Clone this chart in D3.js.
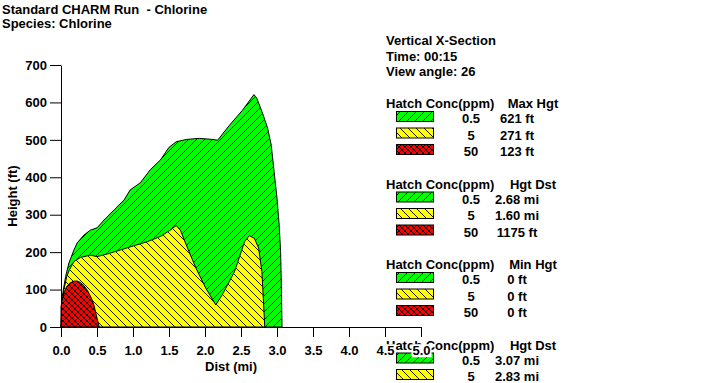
<!DOCTYPE html>
<html>
<head>
<meta charset="utf-8">
<script src="https://cdn.jsdelivr.net/npm/d3@7"></script>
<style>
  body { margin: 0; background: #fff; }
  svg text { font-family: "Liberation Sans", Arial, sans-serif; font-weight: bold; font-size: 13px; fill: #000; white-space: pre; }
</style>
</head>
<body>
<svg></svg>
<script>
var width = 710;
var height = 383;

// plume profiles, [dist (mi), height (ft)]
var plume05 = [[0,0],[0.018,82],[0.064,135],[0.11,171],[0.18,206],[0.226,225],[0.32,246],[0.41,259],[0.50,265],
               [0.60,286],[0.74,313],[0.875,339],[0.96,366],[1.10,385],[1.24,420],[1.38,446],[1.50,480],[1.60,495],
               [1.74,501],[1.92,504],[2.11,501],[2.175,499],[2.34,539],[2.52,579],[2.68,621],[2.72,611],[2.80,571],
               [2.87,531],[2.92,486],[2.96,415],[3.0,344],[3.03,273],[3.05,202],[3.06,113],[3.07,0]];
var plume5 = [[0,0],[0.01,40],[0.04,100],[0.08,135],[0.115,152],[0.18,175],[0.27,186],[0.41,192],[0.50,188],
              [0.64,195],[0.83,206],[1.01,217],[1.20,228],[1.38,242],[1.52,259],[1.60,271],[1.66,258],[1.74,219],
              [1.875,157],[2.01,104],[2.15,59],[2.24,86],[2.41,148],[2.55,228],[2.615,244],[2.685,237],[2.745,211],
              [2.79,148],[2.81,77],[2.83,0]];
var plume50 = [[0,55],[0.02,75],[0.05,95],[0.08,108],[0.12,117],[0.17,122],[0.22,123],[0.27,119],[0.32,110],
               [0.37,97],[0.42,78],[0.46,57],[0.49,32],[0.515,12],[0.53,0]];

var xTicks = [0, 0.5, 1, 1.5, 2, 2.5, 3, 3.5, 4, 4.5, 5];
var yTicks = [0, 100, 200, 300, 400, 500, 600, 700];

var titleLines = ["Standard CHARM Run  - Chlorine", "Species: Chlorine"];
var infoLines = ["Vertical X-Section", "Time: 00:15", "View angle: 26"];

var concLevels = ["0.5", "5", "50"];
var legendHeads = ["Max Hgt", "Hgt Dst", "Min Hgt", "Hgt Dst"];
var maxHgt = ["621 ft", "271 ft", "123 ft"];
var hgtDst = ["2.68 mi", "1.60 mi", "1175 ft"];
var minHgt = ["0 ft", "0 ft", "0 ft"];
var maxDst = ["3.07 mi", "2.83 mi", "0.53 mi"];
var legendValues = [maxHgt, hgtDst, minHgt, maxDst];

var fills = ["#00ff00", "#ffff00", "#ff0000"];

var svg = d3.select("svg")
            .attr("width", width)
            .attr("height", height);

// hatch patterns: forward, back, cross
var defs = svg.append("defs");
var hatches = [
  { id: "h05", size: 8, path: "M-1,9 L9,-1 M-1,1 L1,-1 M7,9 L9,7" },
  { id: "h5", size: 8, path: "M-1,-1 L9,9 M-1,7 L1,9 M7,-1 L9,1" },
  { id: "h50", size: 6, path: "M0,6 L6,0 M0,0 L6,6 M-1,1 L1,-1 M5,7 L7,5 M-1,5 L1,7 M5,-1 L7,1" }
];
hatches.forEach(function(h, i) {
  var p = defs.append("pattern")
              .attr("id", h.id)
              .attr("patternUnits", "userSpaceOnUse")
              .attr("width", h.size)
              .attr("height", h.size);
  p.append("rect")
   .attr("width", h.size)
   .attr("height", h.size)
   .attr("fill", fills[i]);
  p.append("path")
   .attr("d", h.path)
   .attr("stroke", "#000")
   .attr("stroke-width", 0.9);
});

// titles
svg.selectAll(".title")
   .data(titleLines)
   .enter()
   .append("text")
   .attr("class", "title")
   .attr("x", 2)
   .attr("y", function(d, i) { return 14 + i * 14; })
   .text(function(d) { return d; });

svg.selectAll(".info")
   .data(infoLines)
   .enter()
   .append("text")
   .attr("class", "info")
   .attr("x", 386)
   .attr("y", function(d, i) { return 45 + i * 15.5; })
   .text(function(d) { return d; });

// legend groups
legendHeads.forEach(function(head, g) {
  var top = 108 + g * 80.5;
  var grp = svg.append("g");
  grp.append("text")
     .attr("x", 386)
     .attr("y", top)
     .text("Hatch Conc(ppm)");
  grp.append("text")
     .attr("x", 533)
     .attr("y", top)
     .attr("text-anchor", "middle")
     .text(head);

  concLevels.forEach(function(c, i) {
    var base = top + 15 + i * 16.5;
    grp.append("rect")
       .attr("x", 396.5)
       .attr("y", base - 11.5)
       .attr("width", 37)
       .attr("height", 10)
       .attr("fill", "url(#" + hatches[i].id + ")")
       .attr("stroke", "#000");
    grp.append("text")
       .attr("x", 471)
       .attr("y", base)
       .attr("text-anchor", "middle")
       .text(c);
    grp.append("text")
       .attr("x", 517)
       .attr("y", base)
       .attr("text-anchor", "middle")
       .text(legendValues[g][i]);
  });
});

var scaleX = d3.scaleLinear()
               .domain([0, 5])
               .range([61, 421]);

var scaleY = d3.scaleLinear()
               .domain([0, 700])
               .range([327, 65]);

var area = d3.area()
             .x(function(d) { return scaleX(d[0]); })
             .y0(scaleY(0))
             .y1(function(d) { return scaleY(d[1]); });

[plume05, plume5, plume50].forEach(function(p, i) {
  svg.append("path")
     .datum(p)
     .attr("d", area)
     .attr("fill", "url(#" + hatches[i].id + ")")
     .attr("stroke", "#000")
     .attr("stroke-width", 1)
     .attr("stroke-linejoin", "round");
});

// axes
var yAxis = d3.axisLeft(scaleY)
              .tickValues(yTicks)
              .tickSize(11)
              .tickSizeOuter(0)
              .tickPadding(3);

svg.append("g")
   .attr("transform", "translate(" + scaleX(0) + ",0)")
   .call(yAxis)
   .attr("font-family", null)
   .attr("font-size", null);

var xAxis = d3.axisBottom(scaleX)
              .tickValues(xTicks)
              .tickFormat(d3.format(".1f"))
              .tickSize(10)
              .tickSizeOuter(0)
              .tickPadding(9);

var gx = svg.append("g")
            .attr("transform", "translate(0," + scaleY(0) + ")")
            .call(xAxis);
gx.attr("font-family", null).attr("font-size", null);

// tick labels sit on white boxes (they cover the last legend header)
gx.selectAll(".tick").each(function() {
  var t = d3.select(this).select("text");
  var b = t.node().getBBox();
  d3.select(this).insert("rect", "text")
    .attr("x", b.x - 1)
    .attr("y", b.y + 1)
    .attr("width", b.width + 2)
    .attr("height", b.height - 2)
    .attr("fill", "#fff");
});

svg.append("text")
   .attr("x", scaleX(2.5) - 10)
   .attr("y", 371)
   .attr("text-anchor", "middle")
   .text("Dist (mi)");

svg.append("text")
   .attr("transform", "translate(17,196) rotate(-90)")
   .attr("text-anchor", "middle")
   .text("Height (ft)");
</script>
</body>
</html>
